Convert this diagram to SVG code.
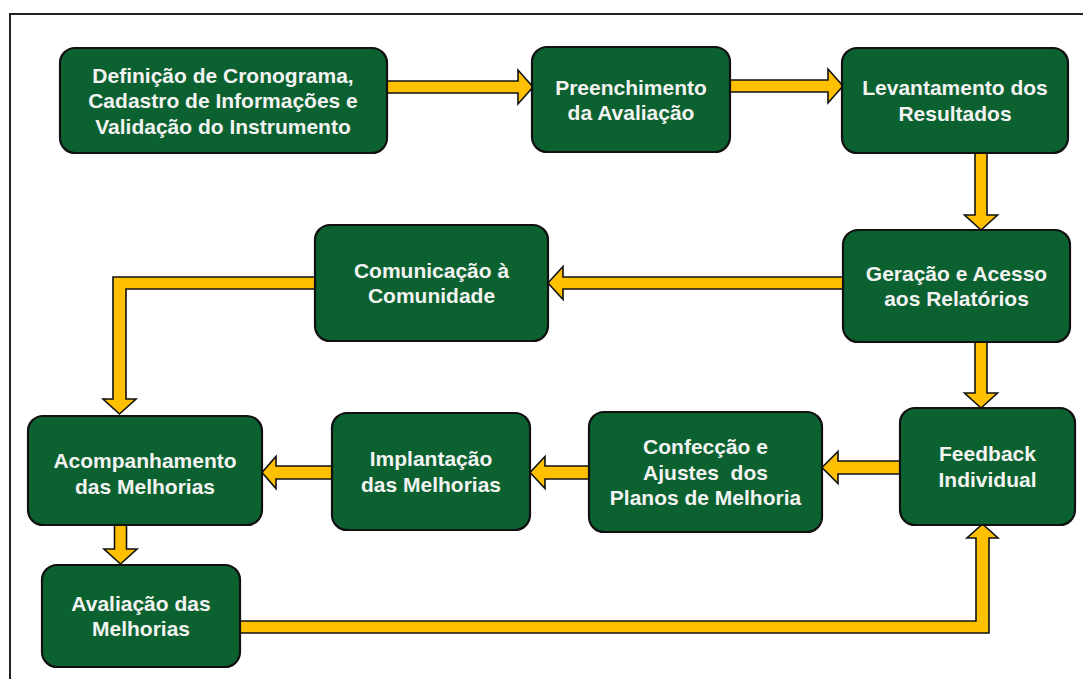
<svg xmlns="http://www.w3.org/2000/svg" width="1083" height="679" viewBox="0 0 1083 679">
  <style>
    .box { fill: #0b612f; stroke: #111; stroke-width: 2.2; }
    .lbl { font-family: "Liberation Sans", Arial, sans-serif; font-weight: bold; font-size: 21px; fill: #f3f3f3; text-anchor: middle; white-space: pre; }
    .arr { fill: #ffc000; stroke: #111; stroke-width: 1.6; stroke-linejoin: miter; }
  </style>
  <rect width="1083" height="679" fill="#ffffff"/>
  <!-- outer frame -->
  <rect x="10" y="14" width="1110" height="720" fill="none" stroke="#222" stroke-width="2"/>

  <!-- connectors -->
  <g id="connectors">
    <path class="arr" d="M387,81 H518 V70 L533,87 L518,104 V93 H387 Z"/>
    <path class="arr" d="M730,80 H828 V69 L843,86 L828,103 V92 H730 Z"/>
    <path class="arr" d="M975,153 V215 H964.5 L981,230 L997.5,215 H987 V153 Z"/>
    <path class="arr" d="M843,277 H563 V266.5 L548,283 L563,299.5 V289 H843 Z"/>
    <path class="arr" d="M315,277 H113 V399 H103 L119.5,414 L136,399 H126 V289 H315 Z"/>
    <path class="arr" d="M975,342 V393 H964.5 L981,408 L997.5,393 H987 V342 Z"/>
    <path class="arr" d="M900,461 H838 V451.5 L822,467.5 L838,483.5 V474 H900 Z"/>
    <path class="arr" d="M589,466 H545 V456.5 L530,472.5 L545,488.5 V479 H589 Z"/>
    <path class="arr" d="M332,466 H276 V456.5 L262,472.5 L276,488.5 V479 H332 Z"/>
    <path class="arr" d="M114.5,525 V549 H104 L120.5,564 L137,549 H126.5 V525 Z"/>
    <path class="arr" d="M240,621 H976 V538 H967 L982.5,524 L998,538 H989 V633 H240 Z"/>
  </g>

  <g id="n1">
    <rect class="box" x="60" y="48" width="327" height="105" rx="15"/>
    <text class="lbl" x="223" y="82.5">Definição de Cronograma,</text>
    <text class="lbl" x="223" y="108">Cadastro de Informações e</text>
    <text class="lbl" x="223" y="133.5">Validação do Instrumento</text>
  </g>
  <g id="n2">
    <rect class="box" x="532" y="47" width="198" height="105" rx="15"/>
    <text class="lbl" x="631" y="94.5">Preenchimento</text>
    <text class="lbl" x="631" y="120">da Avaliação</text>
  </g>
  <g id="n3">
    <rect class="box" x="842" y="48" width="226" height="105" rx="15"/>
    <text class="lbl" x="955" y="95">Levantamento dos</text>
    <text class="lbl" x="955" y="120.5">Resultados</text>
  </g>
  <g id="n4">
    <rect class="box" x="843" y="230" width="227" height="112" rx="15"/>
    <text class="lbl" x="956.5" y="280.5">Geração e Acesso</text>
    <text class="lbl" x="956.5" y="306">aos Relatórios</text>
  </g>
  <g id="n5">
    <rect class="box" x="315" y="225" width="233" height="116" rx="15"/>
    <text class="lbl" x="431.5" y="277.5">Comunicação à</text>
    <text class="lbl" x="431.5" y="303">Comunidade</text>
  </g>
  <g id="n6">
    <rect class="box" x="900" y="408" width="175" height="117" rx="15"/>
    <text class="lbl" x="987.5" y="461">Feedback</text>
    <text class="lbl" x="987.5" y="486.5">Individual</text>
  </g>
  <g id="n7">
    <rect class="box" x="589" y="412" width="233" height="120" rx="15"/>
    <text class="lbl" x="705.5" y="454">Confecção e</text>
    <text class="lbl" x="705.5" y="479.5">Ajustes  dos</text>
    <text class="lbl" x="705.5" y="505">Planos de Melhoria</text>
  </g>
  <g id="n8">
    <rect class="box" x="332" y="413" width="198" height="117" rx="15"/>
    <text class="lbl" x="431" y="466">Implantação</text>
    <text class="lbl" x="431" y="491.5">das Melhorias</text>
  </g>
  <g id="n9">
    <rect class="box" x="28" y="416" width="234" height="109" rx="15"/>
    <text class="lbl" x="145" y="468">Acompanhamento</text>
    <text class="lbl" x="145" y="493.5">das Melhorias</text>
  </g>
  <g id="n10">
    <rect class="box" x="42" y="565" width="198" height="102" rx="15"/>
    <text class="lbl" x="141" y="610.5">Avaliação das</text>
    <text class="lbl" x="141" y="636">Melhorias</text>
  </g>
</svg>
